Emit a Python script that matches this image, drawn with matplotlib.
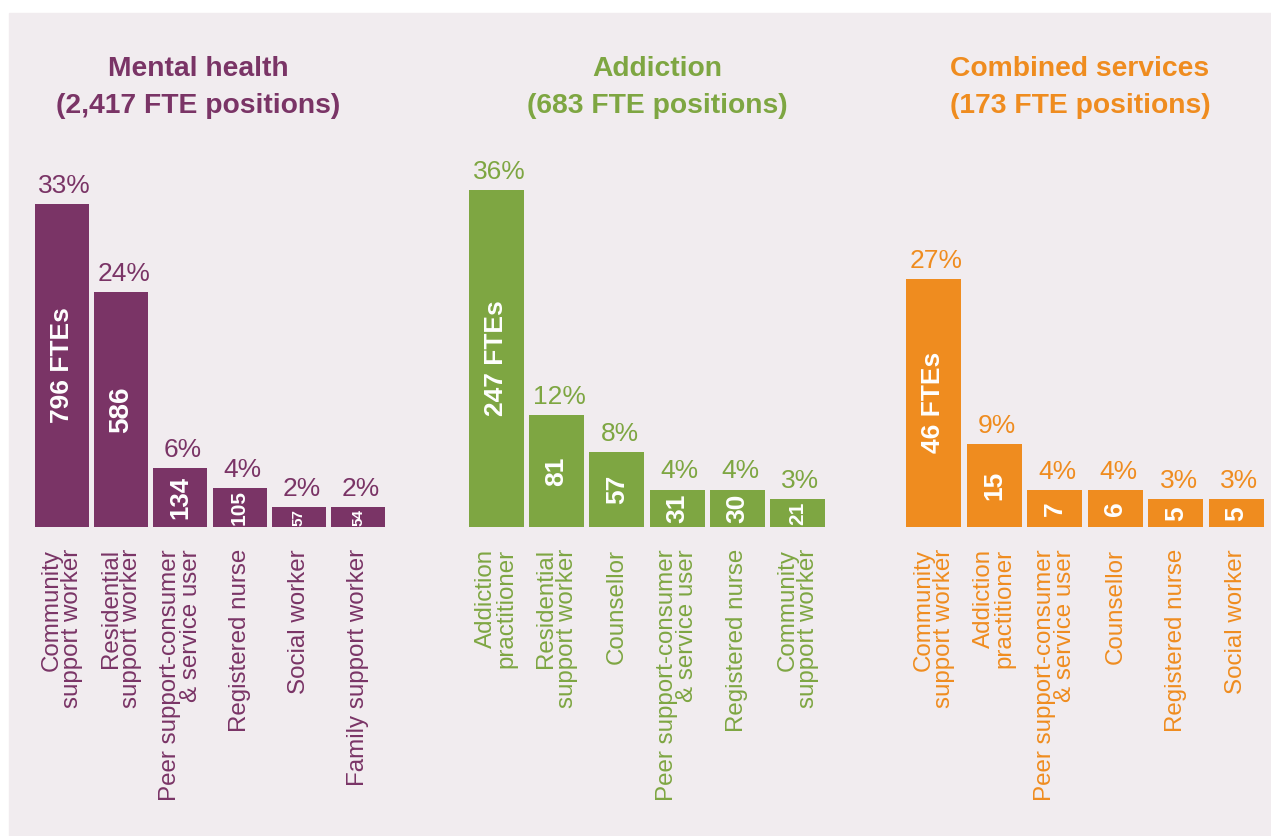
import matplotlib
matplotlib.use("Agg")
import matplotlib.pyplot as plt
from matplotlib.patches import Rectangle

# ---------------- data ----------------
panel_names = ["Mental health", "Addiction", "Combined services"]
panel_totals = ["2,417", "683", "173"]

mh_categories = ["Community\nsupport worker", "Residential\nsupport worker",
                 "Peer support-consumer\n& service user", "Registered nurse",
                 "Social worker", "Family support worker"]
mh_pct = [33, 24, 6, 4, 2, 2]
mh_ftes = [796, 586, 134, 105, 57, 54]

ad_categories = ["Addiction\npractitioner", "Residential\nsupport worker", "Counsellor",
                 "Peer support-consumer\n& service user", "Registered nurse",
                 "Community\nsupport worker"]
ad_pct = [36, 12, 8, 4, 4, 3]
ad_ftes = [247, 81, 57, 31, 30, 21]

cs_categories = ["Community\nsupport worker", "Addiction\npractitioner",
                 "Peer support-consumer\n& service user", "Counsellor",
                 "Registered nurse", "Social worker"]
cs_pct = [27, 9, 4, 4, 3, 3]
cs_ftes = [46, 15, 7, 6, 5, 5]

# ---------------- style ----------------
colors = ["#7A3466", "#7EA642", "#EF8C1F"]
bg = "#F1ECEF"
FONT = ["Liberation Sans", "DejaVu Sans"]
value_sizes = [[19, 20, 18.5, 15, 11, 11],
               [19, 19, 19, 19, 19, 15],
               [19, 19, 19, 19, 19, 19]]

W, H = 1271, 836
fig = plt.figure(figsize=(W / 100, H / 100), dpi=100)
fig.patch.set_facecolor("white")
fig.patches.append(Rectangle((9 / W, 0), (W - 9) / W, 1 - 13 / H,
                             transform=fig.transFigure, color=bg, zorder=-10))

# layout in pixels: (axes left, axes width, ylim top, title centre x)
layout = [(32.4, 355.2, 38.5, 198),
          (466.2, 361.6, 40.3, 657),
          (903.2, 363.6, 41.0, 1080)]
base_px, top_px = 527, 150

panels = [(mh_categories, mh_pct, mh_ftes),
          (ad_categories, ad_pct, ad_ftes),
          (cs_categories, cs_pct, cs_ftes)]

for k, ((cats, pct, ftes), (left, width, ytop, tcx)) in enumerate(zip(panels, layout)):
    col = colors[k]
    ax = fig.add_axes([left / W, 1 - base_px / H, width / W, (base_px - top_px) / H])
    ax.set_facecolor("none")
    x = list(range(len(cats)))
    ax.bar(x, pct, width=0.91, color=col, zorder=2)
    ax.set_xlim(-0.5, len(cats) - 0.5)
    ax.set_ylim(0, ytop)
    for s in ax.spines.values():
        s.set_visible(False)
    ax.set_yticks([])
    ax.set_xticks(x)
    ax.set_xticklabels(cats, rotation=90, ha="center", va="top",
                       multialignment="right", color=col, fontsize=17.4,
                       family=FONT, linespacing=0.9)
    ax.tick_params(axis="x", length=0, pad=16)

    for i, (p, f) in enumerate(zip(pct, ftes)):
        ax.annotate(f"{p}%", xy=(i, p), xytext=(2, 8), textcoords="offset points",
                    ha="center", va="baseline", color=col, fontsize=19, family=FONT)
        lab = f"{f} FTEs" if i == 0 else f"{f}"
        ax.text(i, p / 2, lab, rotation=90, ha="center", va="center",
                color="white", fontsize=value_sizes[k][i], fontweight="bold",
                family=FONT, zorder=3)

    fig.text(tcx / W, 1 - 76 / H, panel_names[k], ha="center", va="baseline",
             color=col, fontsize=20.3, fontweight="bold", family=FONT)
    fig.text(tcx / W, 1 - 113 / H, f"({panel_totals[k]} FTE positions)",
             ha="center", va="baseline", color=col, fontsize=20.3,
             fontweight="bold", family=FONT)

fig.savefig("out.png", dpi=100, facecolor="white")
